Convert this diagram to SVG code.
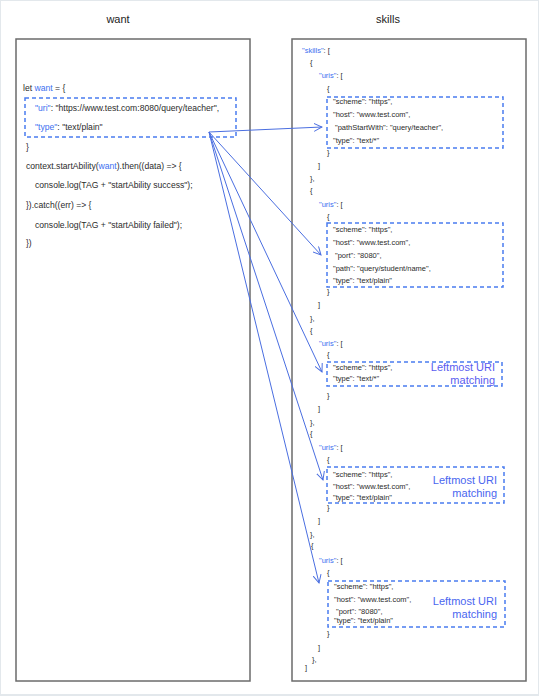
<svg xmlns="http://www.w3.org/2000/svg" width="539" height="696" viewBox="0 0 539 696">
<style>
.bg{fill:#ffffff}
.frame{fill:none;stroke:#e3e8ec;stroke-width:2}
.panel{fill:#ffffff;stroke:#6b6b6b;stroke-width:1.5}
.hd{font-family:"Liberation Sans",Arial,sans-serif;font-size:11px;fill:#222;text-anchor:middle}
.code{font-family:"Liberation Sans",Arial,sans-serif;font-size:8.6px;fill:#2b2b2b}
.sk{font-family:"Liberation Sans",Arial,sans-serif;font-size:7.5px;fill:#2b2b2b}
.kw{fill:#3d6ff0}
.dash{fill:none;stroke:#4a7cf0;stroke-width:1.5;stroke-dasharray:4 3}
.note{font-family:"Liberation Sans",Arial,sans-serif;font-size:11px;fill:#4a66f0;text-anchor:end}
.conn{fill:none;stroke:#4a6ee0;stroke-width:1}
</style>
<defs>
<marker id="arr" viewBox="0 0 10 10" refX="9" refY="5" markerWidth="9" markerHeight="9" markerUnits="userSpaceOnUse" orient="auto">
<path d="M0,0.5 L9,5 L0,9.5" fill="none" stroke="#4a6ee0" stroke-width="1.1"/>
</marker>
</defs>
<rect class="bg" x="0" y="0" width="539" height="696"/>
<rect class="frame" x="0" y="0" width="539" height="695"/>

<g id="want">
<text class="hd" x="118" y="23">want</text>
<rect class="panel" x="16" y="39" width="234" height="642"/>
<text class="code" x="23" y="91">let <tspan class="kw">want</tspan> = {</text>
<rect class="dash" x="25" y="98" width="211" height="39"/>
<text class="code" x="35" y="111"><tspan class="kw">"uri"</tspan>: "https://www.test.com:8080/query/teacher",</text>
<text class="code" x="35" y="130"><tspan class="kw">"type"</tspan>: "text/plain"</text>
<text class="code" x="26" y="150">}</text>
<text class="code" x="26" y="169">context.startAbility(<tspan class="kw">want</tspan>).then((data) =&gt; {</text>
<text class="code" x="35" y="188">console.log(TAG + "startAbility success");</text>
<text class="code" x="26" y="208">}).catch((err) =&gt; {</text>
<text class="code" x="35" y="228">console.log(TAG + "startAbility failed");</text>
<text class="code" x="26" y="246">})</text>
</g>

<g id="skills">
<text class="hd" x="388" y="23">skills</text>
<rect class="panel" x="292" y="39" width="234" height="642"/>
<text class="sk" x="302" y="52.5"><tspan class="kw">"skills"</tspan>: [</text>
<text class="sk" x="310" y="65">{</text>
<text class="sk" x="319" y="77.5"><tspan class="kw">"uris"</tspan>: [</text>
<text class="sk" x="327" y="90.5">{</text>
</g>

<g id="uri1">
<rect class="dash" x="327" y="97" width="176" height="51"/>
<text class="sk" x="333" y="103.5">"scheme": "https",</text>
<text class="sk" x="333" y="116.5">"host": "www.test.com",</text>
<text class="sk" x="335" y="129.5">"pathStartWith": "query/teacher",</text>
<text class="sk" x="333" y="142.5">"type": "text/*"</text>
</g>

<g id="skills-2">
<text class="sk" x="327" y="154.5">}</text>
<text class="sk" x="318" y="167.5">]</text>
<text class="sk" x="310" y="180.5">},</text>
<text class="sk" x="310" y="192.5">{</text>
<text class="sk" x="319" y="206.5"><tspan class="kw">"uris"</tspan>: [</text>
<text class="sk" x="327" y="218.5">{</text>
</g>

<g id="uri2">
<rect class="dash" x="327" y="223" width="176" height="64"/>
<text class="sk" x="333" y="231.5">"scheme": "https",</text>
<text class="sk" x="333" y="244.5">"host": "www.test.com",</text>
<text class="sk" x="335" y="257.5">"port": "8080",</text>
<text class="sk" x="333" y="270.5">"path": "query/student/name",</text>
<text class="sk" x="333" y="282.5">"type": "text/plain"</text>
</g>

<g id="skills-3">
<text class="sk" x="327" y="293.5">}</text>
<text class="sk" x="318" y="306.5">]</text>
<text class="sk" x="310" y="320.5">},</text>
<text class="sk" x="310" y="332.5">{</text>
<text class="sk" x="319" y="345.5"><tspan class="kw">"uris"</tspan>: [</text>
<text class="sk" x="327" y="356.5">{</text>
</g>

<g id="uri3">
<rect class="dash" x="327" y="362" width="175" height="24"/>
<text class="sk" x="333" y="369.5">"scheme": "https",</text>
<text class="sk" x="333" y="380.5">"type": "text/*"</text>
<text class="note" x="495" y="371" style="fill:#5a5cf0">Leftmost URI</text>
<text class="note" x="495" y="384" style="fill:#5a5cf0">matching</text>
</g>

<g id="skills-4">
<text class="sk" x="327" y="397.5">}</text>
<text class="sk" x="318" y="410.5">]</text>
<text class="sk" x="310" y="424.5">},</text>
<text class="sk" x="310" y="435.5">{</text>
<text class="sk" x="319" y="449.5"><tspan class="kw">"uris"</tspan>: [</text>
<text class="sk" x="327" y="461.5">{</text>
</g>

<g id="uri4">
<rect class="dash" x="327" y="467" width="177" height="36"/>
<text class="sk" x="333" y="476.5">"scheme": "https",</text>
<text class="sk" x="333" y="488.5">"host": "www.test.com",</text>
<text class="sk" x="333" y="499.5">"type": "text/plain"</text>
<text class="note" x="497" y="484">Leftmost URI</text>
<text class="note" x="497" y="497">matching</text>
</g>

<g id="skills-5">
<text class="sk" x="327" y="509.5">}</text>
<text class="sk" x="318" y="522.5">]</text>
<text class="sk" x="310" y="536.5">},</text>
<text class="sk" x="311" y="547.5">{</text>
<text class="sk" x="319" y="562.5"><tspan class="kw">"uris"</tspan>: [</text>
<text class="sk" x="327" y="574.5">{</text>
</g>

<g id="uri5">
<rect class="dash" x="328" y="581" width="177" height="46"/>
<text class="sk" x="334" y="588.5">"scheme": "https",</text>
<text class="sk" x="334" y="601.5">"host": "www.test.com",</text>
<text class="sk" x="336" y="614">"port": "8080",</text>
<text class="sk" x="334" y="622.5">"type": "text/plain"</text>
<text class="note" x="497" y="605">Leftmost URI</text>
<text class="note" x="497" y="618">matching</text>
</g>

<g id="skills-6">
<text class="sk" x="327" y="635.5">}</text>
<text class="sk" x="318" y="649.5">]</text>
<text class="sk" x="312" y="661.5">},</text>
<text class="sk" x="305" y="669.5">]</text>
</g>

<g id="connectors">
<line class="conn" x1="209" y1="132" x2="322" y2="127" marker-end="url(#arr)"/>
<line class="conn" x1="209" y1="132" x2="321" y2="255" marker-end="url(#arr)"/>
<line class="conn" x1="209" y1="132" x2="322" y2="372" marker-end="url(#arr)"/>
<line class="conn" x1="209" y1="132" x2="323" y2="480" marker-end="url(#arr)"/>
<line class="conn" x1="209" y1="132" x2="319" y2="583" marker-end="url(#arr)"/>
</g>
</svg>
